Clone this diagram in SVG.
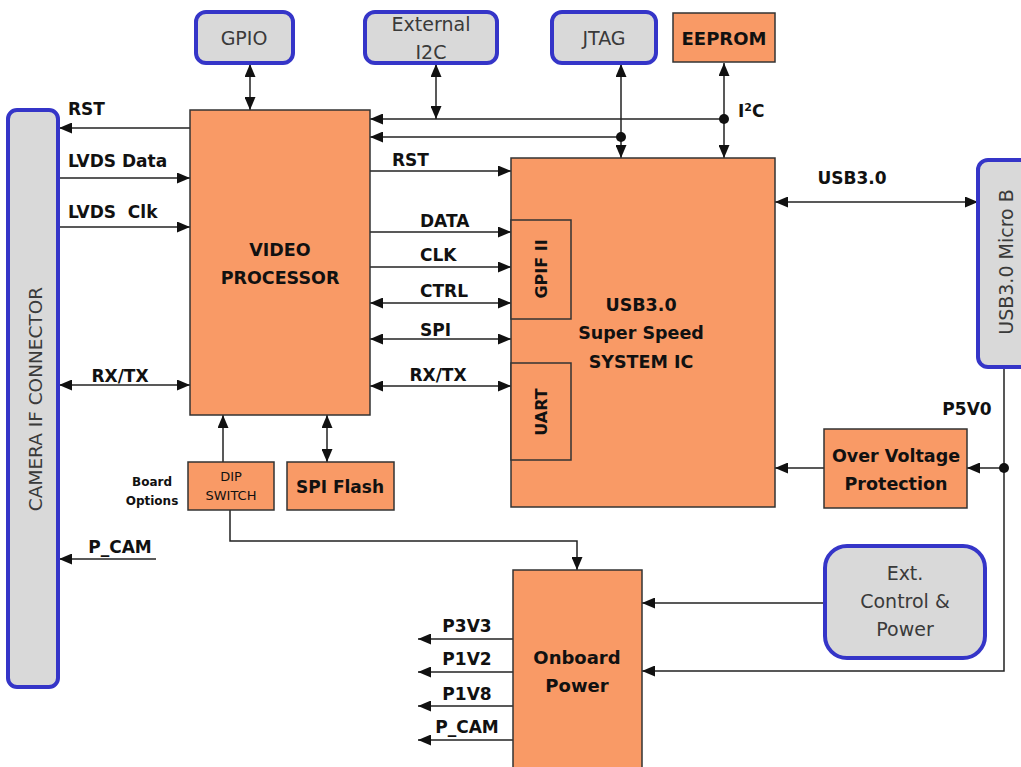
<svg xmlns="http://www.w3.org/2000/svg" width="1021" height="767" viewBox="0 0 1021 767">
<defs>
<style>
.blk{fill:#F99A66;stroke:#333;stroke-width:1.5}
.conn{fill:#D9D9D9;stroke:#3535C8;stroke-width:4}
.t{font-family:"DejaVu Sans",sans-serif;fill:#111}
.b{font-weight:bold}
.g{fill:#3a3a3a}
.ln{fill:none;stroke:#222;stroke-width:1.5}
</style>
<marker id="ah" markerUnits="userSpaceOnUse" markerWidth="13" markerHeight="11" refX="13" refY="5.5" orient="auto-start-reverse" viewBox="0 0 13 11">
<path d="M0,0 L13,5.5 L0,11 z" fill="#111"/>
</marker>
</defs>
<rect width="1021" height="767" fill="#fff"/>

<g id="connectors">
<line class="ln" x1="250" y1="64" x2="250" y2="110" marker-start="url(#ah)" marker-end="url(#ah)"/>
<line class="ln" x1="436" y1="64" x2="436" y2="119" marker-start="url(#ah)" marker-end="url(#ah)"/>
<line class="ln" x1="621" y1="64" x2="621" y2="158" marker-start="url(#ah)" marker-end="url(#ah)"/>
<line class="ln" x1="724" y1="63" x2="724" y2="158" marker-start="url(#ah)" marker-end="url(#ah)"/>
<line class="ln" x1="724" y1="119" x2="370" y2="119" marker-end="url(#ah)"/>
<line class="ln" x1="621" y1="137" x2="370" y2="137" marker-end="url(#ah)"/>
<circle cx="724" cy="119" r="5" fill="#111"/>
<circle cx="621" cy="137" r="5" fill="#111"/>
<line class="ln" x1="190" y1="128" x2="59" y2="128" marker-end="url(#ah)"/>
<line class="ln" x1="59" y1="178" x2="190" y2="178" marker-end="url(#ah)"/>
<line class="ln" x1="59" y1="227" x2="190" y2="227" marker-end="url(#ah)"/>
<line class="ln" x1="59" y1="385" x2="190" y2="385" marker-start="url(#ah)" marker-end="url(#ah)"/>
<line class="ln" x1="156" y1="559" x2="59" y2="559" marker-end="url(#ah)"/>
<line class="ln" x1="370" y1="171" x2="511" y2="171" marker-end="url(#ah)"/>
<line class="ln" x1="370" y1="232" x2="511" y2="232" marker-end="url(#ah)"/>
<line class="ln" x1="370" y1="267" x2="511" y2="267" marker-end="url(#ah)"/>
<line class="ln" x1="370" y1="303" x2="511" y2="303" marker-start="url(#ah)" marker-end="url(#ah)"/>
<line class="ln" x1="370" y1="339" x2="511" y2="339" marker-start="url(#ah)" marker-end="url(#ah)"/>
<line class="ln" x1="370" y1="386" x2="511" y2="386" marker-start="url(#ah)" marker-end="url(#ah)"/>
<line class="ln" x1="223" y1="462" x2="223" y2="415" marker-end="url(#ah)"/>
<line class="ln" x1="327" y1="415" x2="327" y2="462" marker-start="url(#ah)" marker-end="url(#ah)"/>
<polyline class="ln" points="230,510 230,541 577,541 577,570" marker-end="url(#ah)"/>
<line class="ln" x1="775" y1="202" x2="978" y2="202" marker-start="url(#ah)" marker-end="url(#ah)"/>
<polyline class="ln" points="1004,367 1004,671 642,671" marker-end="url(#ah)"/>
<line class="ln" x1="1004" y1="468" x2="967" y2="468" marker-end="url(#ah)"/>
<circle cx="1004" cy="468" r="5" fill="#111"/>
<line class="ln" x1="824" y1="468" x2="775" y2="468" marker-end="url(#ah)"/>
<line class="ln" x1="824" y1="603" x2="642" y2="603" marker-end="url(#ah)"/>
<line class="ln" x1="513" y1="639" x2="418" y2="639" marker-end="url(#ah)"/>
<line class="ln" x1="513" y1="672" x2="418" y2="672" marker-end="url(#ah)"/>
<line class="ln" x1="513" y1="706" x2="418" y2="706" marker-end="url(#ah)"/>
<line class="ln" x1="513" y1="740" x2="418" y2="740" marker-end="url(#ah)"/>
</g>

<g id="labels" class="t b" font-size="17">
<text x="68" y="115">RST</text>
<text x="68" y="167">LVDS Data</text>
<text x="68" y="218" xml:space="preserve">LVDS  Clk</text>
<text x="120" y="382" text-anchor="middle">RX/TX</text>
<text x="120" y="553" text-anchor="middle">P_CAM</text>
<text x="392" y="166">RST</text>
<text x="420" y="227">DATA</text>
<text x="420" y="261">CLK</text>
<text x="420" y="297">CTRL</text>
<text x="420" y="336">SPI</text>
<text x="438" y="381" text-anchor="middle">RX/TX</text>
<text x="738" y="117">I<tspan font-size="11" dy="-6">2</tspan><tspan dy="6">C</tspan></text>
<text x="852" y="184" text-anchor="middle">USB3.0</text>
<text x="967" y="415" text-anchor="middle">P5V0</text>
<text x="467" y="632" text-anchor="middle">P3V3</text>
<text x="467" y="665" text-anchor="middle">P1V2</text>
<text x="467" y="700" text-anchor="middle">P1V8</text>
<text x="467" y="733" text-anchor="middle">P_CAM</text>
<text x="152" y="486" text-anchor="middle" font-size="12">Board</text>
<text x="152" y="505" text-anchor="middle" font-size="12">Options</text>
</g>

<g id="camera-connector">
<rect class="conn" x="8" y="110" width="50" height="577" rx="9"/>
<text class="t g" font-size="18.5" transform="translate(42,399) rotate(-90)" text-anchor="middle">CAMERA IF CONNECTOR</text>
</g>

<g id="gpio">
<rect class="conn" x="196" y="12" width="97" height="51" rx="10"/>
<text class="t g" font-size="19" x="244" y="45" text-anchor="middle">GPIO</text>
</g>

<g id="external-i2c">
<rect class="conn" x="365" y="12" width="132" height="51" rx="10"/>
<text class="t g" font-size="19" x="431" y="31" text-anchor="middle">External</text>
<text class="t g" font-size="19" x="431" y="59" text-anchor="middle">I2C</text>
</g>

<g id="jtag">
<rect class="conn" x="552" y="12" width="104" height="51" rx="10"/>
<text class="t g" font-size="19" x="604" y="45" text-anchor="middle">JTAG</text>
</g>

<g id="eeprom">
<rect class="blk" x="673" y="13" width="102" height="49"/>
<text class="t b" font-size="18" x="724" y="45" text-anchor="middle">EEPROM</text>
</g>

<g id="video-processor">
<rect class="blk" x="190" y="110" width="180" height="305"/>
<text class="t b" font-size="17.5" x="280" y="256" text-anchor="middle">VIDEO</text>
<text class="t b" font-size="17.5" x="280" y="284" text-anchor="middle">PROCESSOR</text>
</g>

<g id="usb-ic">
<rect class="blk" x="511" y="158" width="264" height="349"/>
<text class="t b" font-size="17.5" x="641" y="311" text-anchor="middle">USB3.0</text>
<text class="t b" font-size="17.5" x="641" y="339" text-anchor="middle">Super Speed</text>
<text class="t b" font-size="17.5" x="641" y="368" text-anchor="middle">SYSTEM IC</text>
</g>

<g id="gpif">
<rect class="blk" x="511" y="220" width="60" height="99"/>
<text class="t b" font-size="16" transform="translate(547,269) rotate(-90)" text-anchor="middle">GPIF II</text>
</g>

<g id="uart">
<rect class="blk" x="511" y="363" width="60" height="97"/>
<text class="t b" font-size="16" transform="translate(547,412) rotate(-90)" text-anchor="middle">UART</text>
</g>

<g id="dip-switch">
<rect class="blk" x="188" y="462" width="86" height="48"/>
<text class="t" font-size="13" x="231" y="481" text-anchor="middle">DIP</text>
<text class="t" font-size="13" x="231" y="500" text-anchor="middle">SWITCH</text>
</g>

<g id="spi-flash">
<rect class="blk" x="287" y="462" width="107" height="48"/>
<text class="t b" font-size="17" x="340" y="493" text-anchor="middle">SPI Flash</text>
</g>

<g id="usb-micro-b">
<rect class="conn" x="978" y="160" width="60" height="207" rx="10"/>
<text class="t g" font-size="19" transform="translate(1013,262) rotate(-90)" text-anchor="middle">USB3.0 Micro B</text>
</g>

<g id="over-voltage">
<rect class="blk" x="824" y="429" width="143" height="79"/>
<text class="t b" font-size="17.5" x="896" y="462" text-anchor="middle">Over Voltage</text>
<text class="t b" font-size="17.5" x="896" y="490" text-anchor="middle">Protection</text>
</g>

<g id="ext-control">
<rect class="conn" x="825" y="546" width="160" height="112" rx="22"/>
<text class="t g" font-size="19" x="905" y="580" text-anchor="middle">Ext.</text>
<text class="t g" font-size="19" x="905" y="608" text-anchor="middle">Control &amp;</text>
<text class="t g" font-size="19" x="905" y="636" text-anchor="middle">Power</text>
</g>

<g id="onboard-power">
<rect class="blk" x="513" y="570" width="129" height="210"/>
<text class="t b" font-size="18" x="577" y="664" text-anchor="middle">Onboard</text>
<text class="t b" font-size="18" x="577" y="692" text-anchor="middle">Power</text>
</g>
</svg>
